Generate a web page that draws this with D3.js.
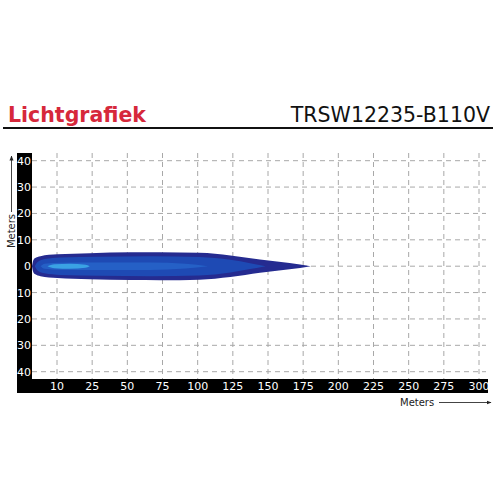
<!DOCTYPE html>
<html>
<head>
<meta charset="utf-8">
<script src="https://cdn.jsdelivr.net/npm/d3@7"></script>
<style>
  html, body { margin: 0; padding: 0; background: #fff; }
  svg { display: block; }
</style>
</head>
<body>
<svg id="chart" width="500" height="500"></svg>
<script>
// ---------------- data ----------------
const titleLeft = "Lichtgrafiek";
const titleRight = "TRSW12235-B110V";
const xTickLabels = ["10","25","50","75","100","125","150","175","200","225","250","275","300"];
const yTickValues = [40, 30, 20, 10, 0, -10, -20, -30, -40];
const axisTitle = "Meters";

// beam contours: [distance (m), half width (m)]
const contourOuter = [[0,0],[0.7,1.9],[2,3],[6,3.8],[18,4.5],[41,4.95],[70,5.25],[91,5.3],[119,5.1],[141,4.1],[162,2.5],[183,1.2],[198,0]];
const contourMid   = [[2,0],[4,1.6],[9,2.7],[20,3.3],[48,3.6],[84,3.8],[119,3.5],[141,2.4],[155,1.1],[166,0]];
const contourInner = [[6,0],[9,0.95],[20,1.3],[48,1.4],[84,1.4],[109,0.9],[125,0]];
const contourCore  = [[11,0],[16,0.75],[27,0.95],[38,0.55],[41,0]];
const contours = [contourOuter, contourMid, contourInner, contourCore];
const contourColors = ["#252b90", "#1e4ab4", "#2560c6", "#3aa2e4"];

// ---------------- layout ----------------
const svg = d3.select("#chart");
const plot = { left: 32, right: 488, top: 153, bottom: 379 };
const band = { left: 17, bottom: 393 };

const xTicks = d3.scalePoint().domain(xTickLabels).range([57, 479]);
const xBeam = d3.scaleLinear().domain([0, 324]).range([plot.left, plot.right]);
const y = d3.scaleLinear().domain([-40, 40]).range([371.7, 160.7]);

// titles
svg.append("text").attr("x", 8).attr("y", 122)
  .attr("font-family", "DejaVu Sans, Verdana, sans-serif")
  .attr("font-weight", "bold").attr("font-size", 20.5)
  .attr("fill", "#d6283b").text(titleLeft);
svg.append("text").attr("x", 490).attr("y", 122).attr("text-anchor", "end")
  .attr("font-family", "DejaVu Sans, Verdana, sans-serif")
  .attr("font-size", 20.5).attr("fill", "#111").text(titleRight);
svg.append("line").attr("x1", 3).attr("x2", 493).attr("y1", 128).attr("y2", 128)
  .attr("stroke", "#111").attr("stroke-width", 2);

// black axis bands
svg.append("rect").attr("x", band.left).attr("y", plot.top)
  .attr("width", plot.left - band.left).attr("height", band.bottom - plot.top).attr("fill", "#000");
svg.append("rect").attr("x", band.left).attr("y", plot.bottom)
  .attr("width", plot.right - band.left).attr("height", band.bottom - plot.bottom).attr("fill", "#000");

// grid
const grid = svg.append("g").attr("stroke", "#a8a8a8").attr("stroke-width", 1).attr("stroke-dasharray", "5,4");
grid.selectAll("line.h").data(yTickValues).join("line")
  .attr("x1", plot.left).attr("x2", 486)
  .attr("y1", d => y(d)).attr("y2", d => y(d));
grid.selectAll("line.v").data(xTickLabels).join("line")
  .attr("x1", d => xTicks(d)).attr("x2", d => xTicks(d))
  .attr("y1", plot.top).attr("y2", plot.bottom);

// beam
const area = d3.area()
  .x(d => xBeam(d[0]))
  .y0(d => y(-d[1]))
  .y1(d => y(d[1]))
  .curve(d3.curveMonotoneX);
svg.append("g").selectAll("path").data(contours).join("path")
  .attr("d", area)
  .attr("fill", (d, i) => contourColors[i]);

// y tick labels
svg.append("g").selectAll("text").data(yTickValues).join("text")
  .attr("x", 31).attr("y", d => y(d)).attr("dy", "0.36em")
  .attr("text-anchor", "end")
  .attr("font-family", "DejaVu Sans, Verdana, sans-serif").attr("font-size", 11)
  .attr("fill", "#fff").text(d => Math.abs(d));

// x tick labels
svg.append("g").selectAll("text").data(xTickLabels).join("text")
  .attr("x", d => xTicks(d)).attr("y", 390)
  .attr("text-anchor", "middle")
  .attr("font-family", "DejaVu Sans, Verdana, sans-serif").attr("font-size", 11)
  .attr("fill", "#fff").text(d => d);

// axis titles with arrows
const defs = svg.append("defs");
defs.append("marker").attr("id", "arr").attr("viewBox", "0 0 10 10")
  .attr("refX", 9).attr("refY", 5).attr("markerWidth", 5).attr("markerHeight", 5)
  .attr("orient", "auto")
  .append("path").attr("d", "M0,1 L10,5 L0,9 Z").attr("fill", "#222");

svg.append("text").attr("x", 400).attr("y", 406)
  .attr("font-family", "DejaVu Sans, Verdana, sans-serif").attr("font-size", 10)
  .attr("fill", "#222").text(axisTitle);
svg.append("line").attr("x1", 439).attr("x2", 491).attr("y1", 402.5).attr("y2", 402.5)
  .attr("stroke", "#444").attr("stroke-width", 1).attr("marker-end", "url(#arr)");

svg.append("text").attr("transform", "translate(15,231) rotate(-90)")
  .attr("text-anchor", "middle")
  .attr("font-family", "DejaVu Sans, Verdana, sans-serif").attr("font-size", 10)
  .attr("fill", "#222").text(axisTitle);
svg.append("line").attr("x1", 11.5).attr("x2", 11.5).attr("y1", 212).attr("y2", 156)
  .attr("stroke", "#444").attr("stroke-width", 1).attr("marker-end", "url(#arr)");
</script>
</body>
</html>
